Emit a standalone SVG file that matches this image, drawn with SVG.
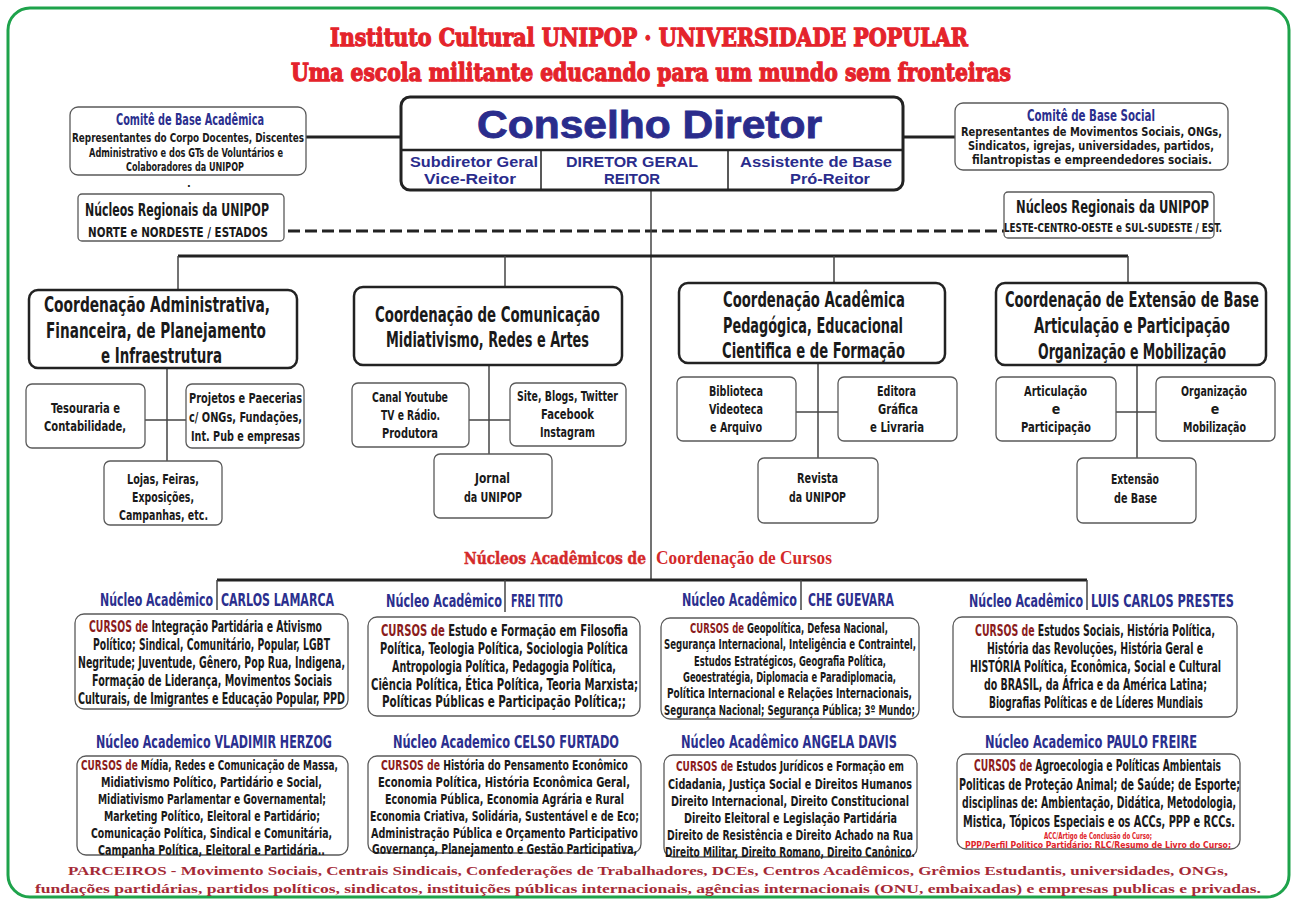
<svg xmlns="http://www.w3.org/2000/svg" width="1297" height="905" viewBox="0 0 1297 905">
<style>
.bg{fill:#ffffff}
.frame{fill:none;stroke:#1ea34b;stroke-width:3}
.ttl{font-family:'DejaVu Serif','Liberation Serif',serif;font-weight:bold;font-size:25px;fill:#e4232b;stroke:#e4232b;stroke-width:1.3}
.c{font-family:'Liberation Sans Narrow','DejaVu Sans Condensed','Liberation Sans',sans-serif;font-weight:bold}
.navy{fill:#2b2f8e}
.blk{fill:#1a1a1a}
.cur{fill:#8b1c1c}
.red{fill:#e0242a}
.cd{font-family:'Liberation Sans','DejaVu Sans',sans-serif;font-weight:bold;font-size:38px;fill:#2a2c8c;stroke:#2a2c8c;stroke-width:0.8}
.sd{font-family:'Liberation Sans','DejaVu Sans',sans-serif;font-weight:bold;font-size:14.5px;fill:#2a2c8c}
.bx{fill:#ffffff;stroke:#5a5a5a;stroke-width:1.3}
.bk{fill:#ffffff;stroke:#222222;stroke-width:2.5}
.ln{stroke:#222222;stroke-width:3;fill:none}
.th{stroke:#444444;stroke-width:1.5;fill:none}
.dash{stroke:#222222;stroke-width:3;stroke-dasharray:12 5;fill:none}
.sec{font-family:'DejaVu Serif','Liberation Serif',serif;font-weight:bold;font-size:17px;fill:#d42a2a;stroke:#d42a2a;stroke-width:0.5}
.sec2{font-family:'Liberation Serif','DejaVu Serif',serif;font-weight:bold;font-size:19px;fill:#d42a2a}
.ft{font-family:'Liberation Serif','DejaVu Serif',serif;font-weight:bold;font-size:13.5px;fill:#a52a36}
.s{font-size:14px}
</style>
<rect class="bg" x="0" y="0" width="1297" height="905"/>
<rect class="frame" x="8" y="8" width="1281" height="889" rx="22"/>

<g id="title">
<text class="ttl" x="330" y="46" textLength="638" lengthAdjust="spacingAndGlyphs">Instituto Cultural UNIPOP · UNIVERSIDADE POPULAR</text>
<text class="ttl" x="291" y="81" textLength="720" lengthAdjust="spacingAndGlyphs">Uma escola militante educando para um mundo sem fronteiras</text>
</g>

<g id="connectors">
<line class="ln" x1="306" y1="137" x2="401" y2="137"/>
<line class="ln" x1="903" y1="137" x2="955" y2="137"/>
<line class="dash" x1="288" y1="231" x2="1004" y2="231"/>
<line class="th" x1="651" y1="190" x2="651" y2="580"/>
<line class="ln" x1="178" y1="256" x2="1128" y2="256"/>
<line class="th" x1="178" y1="256" x2="178" y2="290"/>
<line class="th" x1="505" y1="256" x2="505" y2="287"/>
<line class="th" x1="834" y1="256" x2="834" y2="283"/>
<line class="th" x1="1128" y1="256" x2="1128" y2="283"/>
<line class="th" x1="167" y1="368" x2="167" y2="461"/>
<line class="th" x1="145" y1="420" x2="186" y2="420"/>
<line class="th" x1="489" y1="365" x2="489" y2="454"/>
<line class="th" x1="469" y1="420" x2="510" y2="420"/>
<line class="th" x1="818" y1="363" x2="818" y2="458"/>
<line class="th" x1="796" y1="412" x2="838" y2="412"/>
<line class="th" x1="1137" y1="365" x2="1137" y2="458"/>
<line class="th" x1="1116" y1="412" x2="1156" y2="412"/>
<line class="ln" x1="217" y1="580" x2="1087" y2="580"/>
<line class="th" x1="217" y1="580" x2="217" y2="610"/>
<line class="th" x1="505" y1="580" x2="505" y2="612"/>
<line class="th" x1="801" y1="580" x2="801" y2="610"/>
<line class="th" x1="1087" y1="580" x2="1087" y2="610"/>
</g>

<g id="comite-academica">
<rect class="bx" x="70" y="107" width="236" height="68" rx="8"/>
<text class="c navy" x="116" y="125" font-size="15" textLength="148" lengthAdjust="spacingAndGlyphs">Comitê de Base Acadêmica</text>
<text class="c blk" x="72" y="142" font-size="11.5" textLength="232" lengthAdjust="spacingAndGlyphs">Representantes do Corpo Docentes, Discentes</text>
<text class="c blk" x="89" y="157" font-size="11.5" textLength="194" lengthAdjust="spacingAndGlyphs">Administrativo e dos GTs de Voluntários e</text>
<text class="c blk" x="126" y="171" font-size="11.5" textLength="118" lengthAdjust="spacingAndGlyphs">Colaboradores da UNIPOP</text>
<text class="c blk" x="187" y="187" font-size="11">.</text>
</g>

<g id="conselho">
<rect class="bk" x="401" y="97" width="502" height="93" rx="9" style="stroke-width:3"/>
<line class="ln" x1="401" y1="150" x2="903" y2="150" style="stroke-width:2.5"/>
<line class="ln" x1="541" y1="150" x2="541" y2="190" style="stroke-width:1.5"/>
<line class="ln" x1="728" y1="150" x2="728" y2="190" style="stroke-width:1.5"/>
<text class="cd" x="477" y="138" textLength="345" lengthAdjust="spacingAndGlyphs">Conselho Diretor</text>
<text class="sd" x="410" y="167" textLength="128" lengthAdjust="spacingAndGlyphs">Subdiretor Geral</text>
<text class="sd" x="424" y="184" textLength="92" lengthAdjust="spacingAndGlyphs">Vice-Reitor</text>
<text class="sd" x="566" y="167" textLength="132" lengthAdjust="spacingAndGlyphs">DIRETOR GERAL</text>
<text class="sd" x="604" y="184" textLength="56" lengthAdjust="spacingAndGlyphs">REITOR</text>
<text class="sd" x="740" y="167" textLength="152" lengthAdjust="spacingAndGlyphs">Assistente de Base</text>
<text class="sd" x="790" y="184" textLength="80" lengthAdjust="spacingAndGlyphs">Pró-Reitor</text>
</g>

<g id="comite-social">
<rect class="bx" x="955" y="103" width="273" height="67" rx="8"/>
<text class="c navy" x="1027" y="121" font-size="15" textLength="128" lengthAdjust="spacingAndGlyphs">Comitê de Base Social</text>
<text class="c blk" x="961" y="136" font-size="11.5" textLength="261" lengthAdjust="spacingAndGlyphs">Representantes de Movimentos Sociais, ONGs,</text>
<text class="c blk" x="968" y="150" font-size="11.5" textLength="246" lengthAdjust="spacingAndGlyphs">Sindicatos, igrejas, universidades, partidos,</text>
<text class="c blk" x="972" y="164" font-size="11.5" textLength="240" lengthAdjust="spacingAndGlyphs">filantropistas e empreendedores sociais.</text>
</g>

<g id="nucleos-norte">
<rect class="bx" x="78" y="194" width="206" height="47" rx="4"/>
<text class="c blk" x="85" y="216" font-size="17" textLength="184" lengthAdjust="spacingAndGlyphs">Núcleos Regionais da UNIPOP</text>
<text class="c blk" x="88" y="237" font-size="14" textLength="180" lengthAdjust="spacingAndGlyphs">NORTE e NORDESTE / ESTADOS</text>
</g>

<g id="nucleos-leste">
<rect class="bx" x="1004" y="192" width="210" height="46" rx="4"/>
<text class="c blk" x="1016" y="213" font-size="17" textLength="193" lengthAdjust="spacingAndGlyphs">Núcleos Regionais da UNIPOP</text>
<text class="c blk" x="1004" y="232" font-size="12.5" textLength="218" lengthAdjust="spacingAndGlyphs">LESTE-CENTRO-OESTE e SUL-SUDESTE / EST.</text>
</g>

<g id="coord-adm">
<rect class="bk" x="29" y="290" width="268" height="78" rx="9"/>
<text class="c blk" x="44" y="312" font-size="21" textLength="226" lengthAdjust="spacingAndGlyphs">Coordenação Administrativa,</text>
<text class="c blk" x="46" y="338" font-size="21" textLength="220" lengthAdjust="spacingAndGlyphs">Financeira, de Planejamento</text>
<text class="c blk" x="101" y="363" font-size="21" textLength="121" lengthAdjust="spacingAndGlyphs">e Infraestrutura</text>
</g>
<g id="tesouraria">
<rect class="bx" x="26" y="384" width="119" height="64" rx="6"/>
<text class="c blk s" x="51" y="413" textLength="69" lengthAdjust="spacingAndGlyphs">Tesouraria e</text>
<text class="c blk s" x="44" y="431" textLength="82" lengthAdjust="spacingAndGlyphs">Contabilidade,</text>
</g>
<g id="projetos">
<rect class="bx" x="186" y="384" width="118" height="64" rx="6"/>
<text class="c blk s" x="189" y="403" textLength="113" lengthAdjust="spacingAndGlyphs">Projetos e Paecerias</text>
<text class="c blk s" x="189" y="422" textLength="113" lengthAdjust="spacingAndGlyphs">c/ ONGs, Fundações,</text>
<text class="c blk s" x="191" y="441" textLength="109" lengthAdjust="spacingAndGlyphs">Int. Pub e empresas</text>
</g>
<g id="lojas">
<rect class="bx" x="104" y="461" width="118" height="64" rx="6"/>
<text class="c blk s" x="127" y="484" textLength="72" lengthAdjust="spacingAndGlyphs">Lojas, Feiras,</text>
<text class="c blk s" x="132" y="502" textLength="62" lengthAdjust="spacingAndGlyphs">Exposições,</text>
<text class="c blk s" x="119" y="520" textLength="89" lengthAdjust="spacingAndGlyphs">Campanhas, etc.</text>
</g>

<g id="coord-comunicacao">
<rect class="bk" x="354" y="287" width="268" height="78" rx="9"/>
<text class="c blk" x="375" y="322" font-size="21" textLength="225" lengthAdjust="spacingAndGlyphs">Coordenação de  Comunicação</text>
<text class="c blk" x="386" y="347" font-size="21" textLength="203" lengthAdjust="spacingAndGlyphs">Midiativismo, Redes e Artes</text>
</g>
<g id="canal">
<rect class="bx" x="352" y="383" width="117" height="64" rx="6"/>
<text class="c blk s" x="372" y="402" textLength="76" lengthAdjust="spacingAndGlyphs">Canal Youtube</text>
<text class="c blk s" x="381" y="420" textLength="59" lengthAdjust="spacingAndGlyphs">TV e Rádio.</text>
<text class="c blk s" x="382" y="438" textLength="56" lengthAdjust="spacingAndGlyphs">Produtora</text>
</g>
<g id="site">
<rect class="bx" x="510" y="383" width="116" height="63" rx="6"/>
<text class="c blk s" x="517" y="401" textLength="101" lengthAdjust="spacingAndGlyphs">Site, Blogs, Twitter</text>
<text class="c blk s" x="541" y="419" textLength="53" lengthAdjust="spacingAndGlyphs">Facebook</text>
<text class="c blk s" x="540" y="437" textLength="55" lengthAdjust="spacingAndGlyphs">Instagram</text>
</g>
<g id="jornal">
<rect class="bx" x="434" y="454" width="118" height="64" rx="6"/>
<text class="c blk s" x="475" y="483" textLength="35" lengthAdjust="spacingAndGlyphs">Jornal</text>
<text class="c blk s" x="464" y="502" textLength="58" lengthAdjust="spacingAndGlyphs">da UNIPOP</text>
</g>

<g id="coord-academica">
<rect class="bk" x="679" y="283" width="266" height="80" rx="9"/>
<text class="c blk" x="723" y="307" font-size="21" textLength="182" lengthAdjust="spacingAndGlyphs">Coordenação Acadêmica</text>
<text class="c blk" x="723" y="333" font-size="21" textLength="180" lengthAdjust="spacingAndGlyphs">Pedagógica, Educacional</text>
<text class="c blk" x="722" y="358" font-size="21" textLength="183" lengthAdjust="spacingAndGlyphs">Cientifica e de Formação</text>
</g>
<g id="biblioteca">
<rect class="bx" x="677" y="377" width="119" height="64" rx="6"/>
<text class="c blk s" x="709" y="396" textLength="54" lengthAdjust="spacingAndGlyphs">Biblioteca</text>
<text class="c blk s" x="709" y="414" textLength="54" lengthAdjust="spacingAndGlyphs">Videoteca</text>
<text class="c blk s" x="710" y="432" textLength="52" lengthAdjust="spacingAndGlyphs">e Arquivo</text>
</g>
<g id="editora">
<rect class="bx" x="838" y="377" width="119" height="64" rx="6"/>
<text class="c blk s" x="877" y="396" textLength="39" lengthAdjust="spacingAndGlyphs">Editora</text>
<text class="c blk s" x="878" y="414" textLength="40" lengthAdjust="spacingAndGlyphs">Gráfica</text>
<text class="c blk s" x="870" y="432" textLength="54" lengthAdjust="spacingAndGlyphs">e Livraria</text>
</g>
<g id="revista">
<rect class="bx" x="758" y="458" width="120" height="65" rx="6"/>
<text class="c blk s" x="797" y="483" textLength="41" lengthAdjust="spacingAndGlyphs">Revista</text>
<text class="c blk s" x="789" y="502" textLength="57" lengthAdjust="spacingAndGlyphs">da UNIPOP</text>
</g>

<g id="coord-extensao">
<rect class="bk" x="996" y="283" width="270" height="82" rx="9"/>
<text class="c blk" x="1005" y="307" font-size="21" textLength="254" lengthAdjust="spacingAndGlyphs">Coordenação de Extensão de Base</text>
<text class="c blk" x="1034" y="333" font-size="21" textLength="196" lengthAdjust="spacingAndGlyphs">Articulação e Participação</text>
<text class="c blk" x="1038" y="359" font-size="21" textLength="188" lengthAdjust="spacingAndGlyphs">Organização e Mobilização</text>
</g>
<g id="articulacao">
<rect class="bx" x="996" y="377" width="120" height="64" rx="6"/>
<text class="c blk s" x="1024" y="396" textLength="63" lengthAdjust="spacingAndGlyphs">Articulação</text>
<text class="c blk s" x="1056" y="414" text-anchor="middle">e</text>
<text class="c blk s" x="1021" y="432" textLength="70" lengthAdjust="spacingAndGlyphs">Participação</text>
</g>
<g id="organizacao">
<rect class="bx" x="1156" y="377" width="119" height="64" rx="6"/>
<text class="c blk s" x="1181" y="396" textLength="66" lengthAdjust="spacingAndGlyphs">Organização</text>
<text class="c blk s" x="1215" y="414" text-anchor="middle">e</text>
<text class="c blk s" x="1183" y="432" textLength="63" lengthAdjust="spacingAndGlyphs">Mobilização</text>
</g>
<g id="extensao">
<rect class="bx" x="1077" y="458" width="119" height="65" rx="6"/>
<text class="c blk s" x="1111" y="484" textLength="48" lengthAdjust="spacingAndGlyphs">Extensão</text>
<text class="c blk s" x="1114" y="503" textLength="43" lengthAdjust="spacingAndGlyphs">de Base</text>
</g>

<g id="nucleos-academicos-titulo">
<text class="sec" x="464" y="564" textLength="182" lengthAdjust="spacingAndGlyphs">Núcleos Acadêmicos de</text>
<text class="sec2" x="656" y="564" textLength="176" lengthAdjust="spacingAndGlyphs">Coordenação de Cursos</text>
</g>

<g id="carlos-lamarca">
<text class="c navy" x="100" y="606" font-size="17" textLength="113" lengthAdjust="spacingAndGlyphs">Núcleo Acadêmico</text>
<text class="c navy" x="221" y="606" font-size="17" textLength="113" lengthAdjust="spacingAndGlyphs">CARLOS LAMARCA</text>
<rect class="bx" x="75" y="614" width="273" height="95" rx="9"/>
<text class="c blk" x="89" y="632" font-size="15" textLength="233" lengthAdjust="spacingAndGlyphs"><tspan class="cur">CURSOS de</tspan> Integração Partidária e  Ativismo</text>
<text class="c blk" x="93" y="650" font-size="15" textLength="237" lengthAdjust="spacingAndGlyphs">Político; Sindical, Comunitário, Popular, LGBT</text>
<text class="c blk" x="78" y="668" font-size="15" textLength="267" lengthAdjust="spacingAndGlyphs">Negritude; Juventude, Gênero, Pop Rua, Indigena,</text>
<text class="c blk" x="92" y="686" font-size="15" textLength="240" lengthAdjust="spacingAndGlyphs">Formação de Liderança, Movimentos Sociais</text>
<text class="c blk" x="78" y="704" font-size="15" textLength="267" lengthAdjust="spacingAndGlyphs">Culturais, de Imigrantes e Educação Popular, PPD</text>
</g>

<g id="frei-tito">
<text class="c navy" x="386" y="607" font-size="17" textLength="116" lengthAdjust="spacingAndGlyphs">Núcleo  Acadêmico</text>
<text class="c navy" x="511" y="607" font-size="17" textLength="52" lengthAdjust="spacingAndGlyphs">FREI TITO</text>
<rect class="bx" x="368" y="617" width="272" height="99" rx="9"/>
<text class="c blk" x="381" y="636" font-size="15" textLength="247" lengthAdjust="spacingAndGlyphs"><tspan class="cur">CURSOS de</tspan> Estudo e Formação em Filosofia</text>
<text class="c blk" x="380" y="654" font-size="15" textLength="248" lengthAdjust="spacingAndGlyphs">Política, Teologia Política, Sociologia Política</text>
<text class="c blk" x="392" y="672" font-size="15" textLength="224" lengthAdjust="spacingAndGlyphs">Antropologia Política, Pedagogia Política,</text>
<text class="c blk" x="371" y="690" font-size="15" textLength="267" lengthAdjust="spacingAndGlyphs">Ciência Política, Ética Política, Teoria Marxista;</text>
<text class="c blk" x="382" y="707" font-size="15" textLength="244" lengthAdjust="spacingAndGlyphs">Políticas Públicas e Participação Política;;</text>
</g>

<g id="che-guevara">
<text class="c navy" x="682" y="606" font-size="17" textLength="115" lengthAdjust="spacingAndGlyphs">Núcleo Acadêmico</text>
<text class="c navy" x="808" y="606" font-size="17" textLength="86" lengthAdjust="spacingAndGlyphs">CHE GUEVARA</text>
<rect class="bx" x="661" y="618" width="258" height="101" rx="9"/>
<text class="c blk" x="690" y="633" font-size="13.5" textLength="198" lengthAdjust="spacingAndGlyphs"><tspan class="cur">CURSOS de</tspan> Geopolítica, Defesa  Nacional,</text>
<text class="c blk" x="664" y="649" font-size="13.5" textLength="252" lengthAdjust="spacingAndGlyphs">Segurança Internacional, Inteligência e Contraintel,</text>
<text class="c blk" x="694" y="666" font-size="13.5" textLength="192" lengthAdjust="spacingAndGlyphs">Estudos Estratégicos, Geografia Política,</text>
<text class="c blk" x="683" y="682" font-size="13.5" textLength="213" lengthAdjust="spacingAndGlyphs">Geoestratégia, Diplomacia e Paradiplomacia,</text>
<text class="c blk" x="667" y="698" font-size="13.5" textLength="245" lengthAdjust="spacingAndGlyphs">Política Internacional e Relações Internacionais,</text>
<text class="c blk" x="664" y="715" font-size="13.5" textLength="251" lengthAdjust="spacingAndGlyphs">Segurança Nacional; Segurança Pública; 3º Mundo;</text>
</g>

<g id="luis-carlos-prestes">
<text class="c navy" x="969" y="607" font-size="17" textLength="114" lengthAdjust="spacingAndGlyphs">Núcleo Acadêmico</text>
<text class="c navy" x="1091" y="607" font-size="17" textLength="143" lengthAdjust="spacingAndGlyphs">LUIS CARLOS PRESTES</text>
<rect class="bx" x="953" y="617" width="284" height="100" rx="9"/>
<text class="c blk" x="975" y="636" font-size="15" textLength="240" lengthAdjust="spacingAndGlyphs"><tspan class="cur">CURSOS de</tspan> Estudos Sociais, História Política,</text>
<text class="c blk" x="987" y="654" font-size="15" textLength="216" lengthAdjust="spacingAndGlyphs">História das Revoluções, História Geral e</text>
<text class="c blk" x="970" y="672" font-size="15" textLength="251" lengthAdjust="spacingAndGlyphs">HISTÓRIA Política, Econômica, Social e Cultural</text>
<text class="c blk" x="984" y="690" font-size="15" textLength="223" lengthAdjust="spacingAndGlyphs">do BRASIL, da África e da América Latina;</text>
<text class="c blk" x="989" y="708" font-size="15" textLength="214" lengthAdjust="spacingAndGlyphs">Biografias Políticas e de Líderes Mundiais</text>
</g>

<g id="vladimir-herzog">
<text class="c navy" x="96" y="748" font-size="17" textLength="236" lengthAdjust="spacingAndGlyphs">Núcleo Academico VLADIMIR HERZOG</text>
<rect class="bx" x="77" y="756" width="271" height="99" rx="9"/>
<text class="c blk" x="81" y="770" font-size="13.5" textLength="257" lengthAdjust="spacingAndGlyphs"><tspan class="cur">CURSOS de</tspan> Mídia, Redes e Comunicação de Massa,</text>
<text class="c blk" x="101" y="787" font-size="13.5" textLength="221" lengthAdjust="spacingAndGlyphs">Midiativismo Político, Partidário e Social,</text>
<text class="c blk" x="98" y="804" font-size="13.5" textLength="228" lengthAdjust="spacingAndGlyphs">Midiativismo Parlamentar e Governamental;</text>
<text class="c blk" x="104" y="821" font-size="13.5" textLength="216" lengthAdjust="spacingAndGlyphs">Marketing Político, Eleitoral e Partidário;</text>
<text class="c blk" x="91" y="838" font-size="13.5" textLength="241" lengthAdjust="spacingAndGlyphs">Comunicação Política, Sindical e Comunitária,</text>
<text class="c blk" x="98" y="855" font-size="13.5" textLength="227" lengthAdjust="spacingAndGlyphs">Campanha Política, Eleitoral e Partidária..</text>
</g>

<g id="celso-furtado">
<text class="c navy" x="393" y="748" font-size="17" textLength="226" lengthAdjust="spacingAndGlyphs">Núcleo Academico  CELSO FURTADO</text>
<rect class="bx" x="368" y="756" width="273" height="97" rx="9"/>
<text class="c blk" x="381" y="770" font-size="13.5" textLength="247" lengthAdjust="spacingAndGlyphs"><tspan class="cur">CURSOS de</tspan> História do Pensamento Econômico</text>
<text class="c blk" x="378" y="787" font-size="13.5" textLength="252" lengthAdjust="spacingAndGlyphs">Economia Política,  História Econômica Geral,</text>
<text class="c blk" x="385" y="804" font-size="13.5" textLength="239" lengthAdjust="spacingAndGlyphs">Economia Pública, Economia Agrária e Rural</text>
<text class="c blk" x="370" y="821" font-size="13.5" textLength="269" lengthAdjust="spacingAndGlyphs">Economia Criativa, Solidária, Sustentável e de Eco;</text>
<text class="c blk" x="371" y="838" font-size="13.5" textLength="267" lengthAdjust="spacingAndGlyphs">Administração Pública e Orçamento Participativo</text>
<text class="c blk" x="372" y="854" font-size="13.5" textLength="265" lengthAdjust="spacingAndGlyphs">Governança, Planejamento e Gestão Participativa,</text>
</g>

<g id="angela-davis">
<text class="c navy" x="681" y="748" font-size="17" textLength="216" lengthAdjust="spacingAndGlyphs">Núcleo Acadêmico  ANGELA DAVIS</text>
<rect class="bx" x="664" y="755" width="253" height="102" rx="9"/>
<text class="c blk" x="676" y="771" font-size="14.5" textLength="228" lengthAdjust="spacingAndGlyphs"><tspan class="cur">CURSOS de</tspan> Estudos Jurídicos e Formação em</text>
<text class="c blk" x="668" y="789" font-size="14.5" textLength="244" lengthAdjust="spacingAndGlyphs">Cidadania, Justiça Social e Direitos Humanos</text>
<text class="c blk" x="671" y="806" font-size="14.5" textLength="238" lengthAdjust="spacingAndGlyphs">Direito Internacional, Direito Constitucional</text>
<text class="c blk" x="684" y="823" font-size="14.5" textLength="213" lengthAdjust="spacingAndGlyphs">Direito Eleitoral e Legislação Partidária</text>
<text class="c blk" x="667" y="840" font-size="14.5" textLength="246" lengthAdjust="spacingAndGlyphs">Direito de Resistência e Direito Achado na Rua</text>
<text class="c blk" x="665" y="857" font-size="14.5" textLength="250" lengthAdjust="spacingAndGlyphs">Direito Militar, Direito Romano, Direito Canônico.</text>
</g>

<g id="paulo-freire">
<text class="c navy" x="985" y="748" font-size="17" textLength="212" lengthAdjust="spacingAndGlyphs">Núcleo Academico PAULO FREIRE</text>
<rect class="bx" x="957" y="754" width="283" height="95" rx="9"/>
<text class="c blk" x="974" y="771" font-size="15" textLength="247" lengthAdjust="spacingAndGlyphs"><tspan class="cur">CURSOS de</tspan> Agroecologia e Políticas Ambientais</text>
<text class="c blk" x="959" y="790" font-size="15" textLength="281" lengthAdjust="spacingAndGlyphs">Politicas de Proteção Animal; de Saúde;  de Esporte;</text>
<text class="c blk" x="962" y="808" font-size="15" textLength="274" lengthAdjust="spacingAndGlyphs">disciplinas de: Ambientação, Didática, Metodologia,</text>
<text class="c blk" x="963" y="827" font-size="15" textLength="272" lengthAdjust="spacingAndGlyphs">Mistica, Tópicos Especiais e os ACCs,  PPP e RCCs.</text>
<text class="c red" x="1044" y="839" font-size="8.5" textLength="108" lengthAdjust="spacingAndGlyphs">ACC/Artigo de Conclusão do Curso;</text>
<text class="c red" x="965" y="848" font-size="8.5" textLength="266" lengthAdjust="spacingAndGlyphs">PPP/Perfil Politico Partidário;  RLC/Resumo de Livro do Curso;</text>
</g>

<g id="parceiros">
<text class="ft" x="68" y="875" textLength="1160" lengthAdjust="spacingAndGlyphs">PARCEIROS -  Movimento Sociais, Centrais Sindicais,  Confederações de Trabalhadores, DCEs, Centros Acadêmicos, Grêmios Estudantis, universidades, ONGs,</text>
<text class="ft" x="35" y="893" textLength="1226" lengthAdjust="spacingAndGlyphs">fundações partidárias, partidos políticos, sindicatos, instituições públicas internacionais, agências internacionais (ONU, embaixadas) e empresas publicas e privadas.</text>
</g>
</svg>
